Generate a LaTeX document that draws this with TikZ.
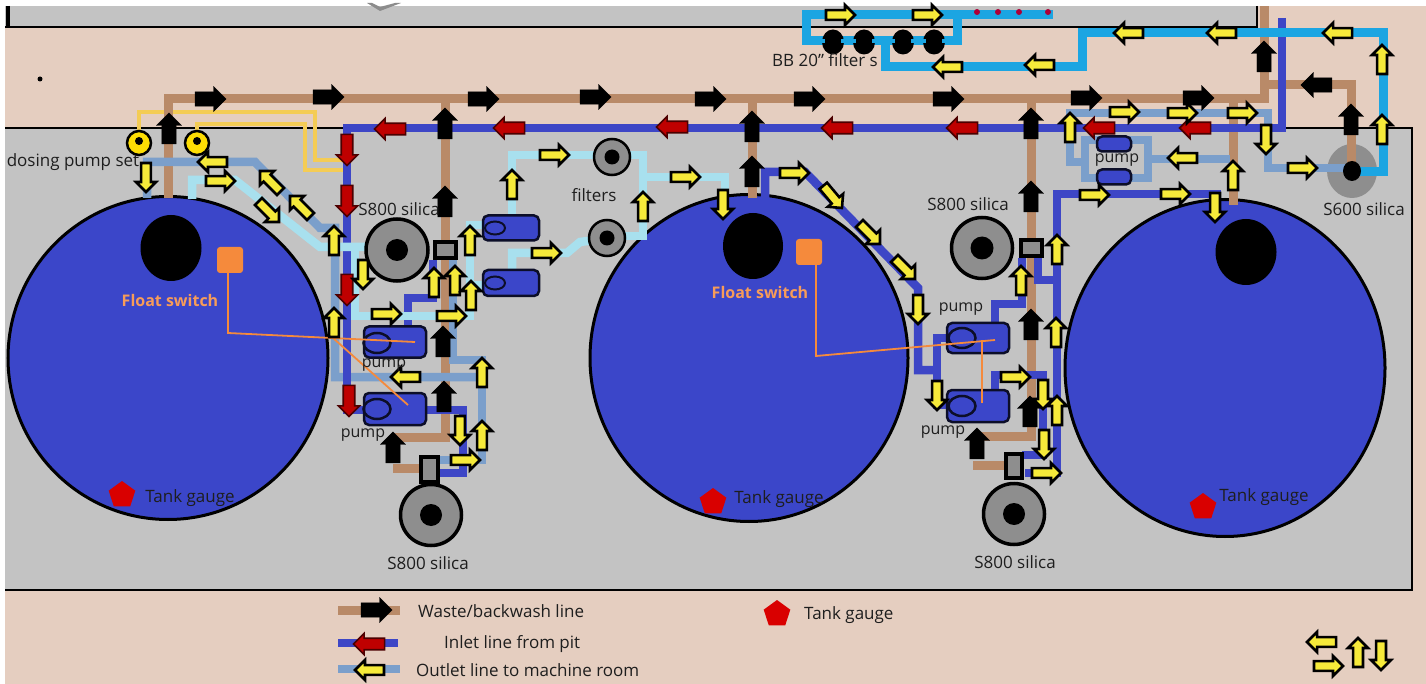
\documentclass[tikz,border=0pt]{standalone}
\usepackage{fontspec}
\setmainfont{Open Sans}
\usepackage{tikz}
\usetikzlibrary{shapes.geometric,shapes.arrows}
\definecolor{peach}{HTML}{E5CEC0}
\definecolor{slab}{HTML}{C3C3C3}
\definecolor{tankblue}{HTML}{3B46C9}
\definecolor{wastec}{HTML}{B98A68}
\definecolor{inletc}{HTML}{3D46C6}
\definecolor{outletc}{HTML}{7B9FCB}
\definecolor{palec}{HTML}{A8E0EE}
\definecolor{skyc}{HTML}{1BA5E2}
\definecolor{dosec}{HTML}{F4CC55}
\definecolor{floatc}{HTML}{F58A3C}
\definecolor{ink}{HTML}{1E1E1E}
\definecolor{filterg}{HTML}{8E8E8E}
\definecolor{yelfill}{HTML}{F6EA3A}
\newcommand{\fLabel}{\fontsize{17}{20}\selectfont}
\newcommand{\fSmall}{\fontsize{16}{19}\selectfont}
\begin{document}
\begin{tikzpicture}[x=1pt,y=-1pt,
  waste/.style={draw=wastec,line width=9pt},
  inlet/.style={draw=inletc,line width=8.5pt},
  outlet/.style={draw=outletc,line width=8.5pt},
  pale/.style={draw=palec,line width=8.5pt},
  sky/.style={draw=skyc,line width=9pt},
  dose/.style={draw=dosec,line width=3.5pt},
  floatline/.style={draw=floatc,line width=1.8pt},
  tank/.style={ellipse,draw=black,line width=3pt,fill=tankblue,inner sep=0pt},
  hole/.style={ellipse,fill=black,inner sep=0pt},
  filterbody/.style={circle,draw=black,line width=3.5pt,fill=filterg,inner sep=0pt},
  valve/.style={rectangle,draw=black,line width=4pt,fill=filterg,inner sep=0pt},
  pumpbody/.style={rectangle,rounded corners=5pt,draw=black!80!tankblue,line width=2.5pt,fill=tankblue,inner sep=0pt},
  pumpeye/.style={ellipse,draw=black!80!tankblue,line width=2.5pt,inner sep=0pt,minimum width=27pt,minimum height=20pt},
  gauge/.style={regular polygon,regular polygon sides=5,fill=red!85!black,inner sep=0pt,minimum size=28pt},
  yel/.style={single arrow,draw=black,line width=2.6pt,fill=yelfill,inner sep=2.6pt,minimum height=29pt,minimum width=20pt,single arrow head extend=4pt},
  blk/.style={single arrow,draw=black,fill=black,inner sep=5pt,minimum height=31pt,minimum width=25pt,single arrow head extend=4pt},
  rdd/.style={single arrow,draw=black!70!red,line width=1.6pt,fill=red!75!black,inner sep=3.5pt,minimum height=31pt,minimum width=21pt,single arrow head extend=3.5pt},
  lbl/.style={inner sep=0pt,text=ink,font=\fLabel},
  plbl/.style={inner sep=0pt,text=ink,font=\fSmall},
  flbl/.style={inner sep=0pt,text=floatc!85!white,font=\fSmall\bfseries}]
  \useasboundingbox (0,0) rectangle (1426,684);
  \fill[white] (0,0) rectangle (1426,684);
  \fill[peach] (5,6) rectangle (1426,684);
  \fill[slab] (5,6) rectangle (1257,27);
  \draw[black,line width=2.5pt] (1257,6) -- (1257,27) -- (5,27);
  \draw[black,line width=4pt] (8,6) -- (8,28);
  \fill[black!45] (367,3) -- (380,11) -- (401,3) -- (395,3) -- (380,7) -- (372,3) -- cycle;
  \fill[black] (40,79) circle (2.5);
  \draw[fill=slab,draw=black,line width=2.5pt] (5,128) -- (1412,128) -- (1412,590) -- (5,590);
  \node[tank,minimum width=320pt,minimum height=323pt] (tankA) at (168,358) {};
  \node[tank,minimum width=318pt,minimum height=327pt] (tankB) at (749,358) {};
  \node[tank,minimum width=320pt,minimum height=337pt] (tankC) at (1225,368) {};
  \node[hole,minimum width=61pt,minimum height=66pt] (holeA) at (171,248) {};
  \node[hole,minimum width=60pt,minimum height=66pt] (holeB) at (753,246) {};
  \node[hole,minimum width=61pt,minimum height=66pt] (holeC) at (1246,252) {};

  \draw[dose] (139,135) -- (139,112) -- (315,112) -- (315,160) -- (345,160);
  \draw[dose] (197,135) -- (197,124) -- (305,124) -- (305,170) -- (345,170);

  \draw[waste] (168,198) -- (168,99) -- (1264,99) -- (1264,6);
  \draw[waste] (445,99) -- (445,437) -- (393,437);
  \draw[waste] (393,468) -- (430,468);
  \draw[waste] (752,99) -- (752,198);
  \draw[waste] (1031,99) -- (1031,436) -- (977,436);
  \draw[waste] (973,465) -- (1010,465);
  \draw[waste] (1233,99) -- (1233,205);
  \draw[waste] (1264,85) -- (1351,85) -- (1351,172);
  \draw[waste] (338,610) -- (400,610);

  \draw[outlet] (147,198) -- (147,162) -- (255,162) -- (320,228) -- (335,228) -- (335,377) -- (482,377);
  \draw[outlet] (453,240) -- (453,360) -- (482,360) -- (482,460) -- (440,460);
  \draw[outlet] (1085,162) -- (1070,162) -- (1070,113) -- (1268,113) -- (1268,168) -- (1350,168);
  \draw[outlet] (1085,140) rectangle (1148,178);
  \draw[outlet] (1148,159) -- (1230,159);
  \draw[outlet] (338,669) -- (400,669);

  \draw[inlet] (1282,18) -- (1282,128) -- (347,128) -- (347,410) -- (364,410);
  \draw[inlet] (426,410) -- (463,410) -- (463,473) -- (440,473);
  \draw[inlet] (408,325) -- (408,298) -- (433,298) -- (433,260);
  \draw[inlet] (765,198) -- (765,172) -- (805,172) -- (918,288) -- (918,370) -- (937,370);
  \draw[inlet] (950,338) -- (937,338) -- (937,405) -- (950,405);
  \draw[inlet] (995,323) -- (995,304) -- (1022,304) -- (1022,258);
  \draw[inlet] (995,390) -- (995,375) -- (1043,375) -- (1043,455) -- (1022,455);
  \draw[inlet] (1025,473) -- (1057,473) -- (1057,194) -- (1217,194) -- (1217,205);
  \draw[inlet] (1038,255) -- (1038,280) -- (1057,280);
  \draw[inlet] (338,643) -- (398,643);

  \draw[pale] (192,199) -- (192,180) -- (235,180) -- (320,247) -- (372,247);
  \draw[pale] (355,247) -- (355,316) -- (470,316) -- (470,225) -- (490,225);
  \draw[pale] (470,285) -- (490,285);
  \draw[pale] (512,218) -- (512,155) -- (595,155);
  \draw[pale] (512,272) -- (512,253) -- (567,253) -- (580,242) -- (595,240);
  \draw[pale] (625,155) -- (643,155) -- (643,177) -- (725,177) -- (725,198);
  \draw[pale] (622,236) -- (643,236) -- (643,177);

  \draw[sky] (885,41) -- (806,41) -- (806,15) -- (1053,15);
  \draw[sky] (957,15) -- (957,41) -- (885,41) -- (885,67) -- (1082,67) -- (1082,33) -- (1383,33) -- (1383,172) -- (1358,172);
  \foreach \x [count=\i] in {977,998,1019,1048}
    \fill[red!75!blue!90!black] (\x,12) circle (3);
  \foreach \x [count=\i] in {833,864,903,934} {
    \node[hole,minimum width=22pt,minimum height=25pt] (bb\i) at (\x,42) {};
    \draw[sky,line width=4pt] (\x-12,41) -- (\x-8,41) (\x+8,41) -- (\x+12,41);
  }

  \node[valve,minimum width=21pt,minimum height=16pt] (valveA) at (445,250) {};
  \node[valve,minimum width=17pt,minimum height=25pt] (valveB) at (429,469) {};
  \node[valve,minimum width=21pt,minimum height=16pt] (valveC) at (1031,248) {};
  \node[valve,minimum width=16pt,minimum height=24pt] (valveD) at (1014,466) {};
  \node[filterbody,minimum size=62pt] (filterA) at (397,250) {};
  \node[filterbody,minimum size=61pt] (filterB) at (431,515) {};
  \node[filterbody,minimum size=61pt] (filterC) at (982,248) {};
  \node[filterbody,minimum size=61pt] (filterD) at (1014,514) {};
  \node[filterbody,line width=2.5pt,minimum size=36pt] (filterE) at (612,157) {};
  \node[filterbody,line width=2.5pt,minimum size=36pt] (filterF) at (607,238) {};
  \foreach \n/\s in {filterA/22,filterB/22,filterC/23,filterD/22,filterE/15,filterF/15}
    \node[hole,minimum size=\s pt] at (\n) {};
  \node[ellipse,fill=filterg,inner sep=0pt,minimum width=50pt,minimum height=54pt] (filterG) at (1352,171) {};
  \draw[waste] (1351,135) -- (1351,168);
  \draw[outlet] (1320,168) -- (1350,168);
  \draw[sky] (1358,172) -- (1383,172) -- (1383,150);
  \node[hole,minimum width=18pt,minimum height=20pt] at (filterG) {};

  \node[circle,draw=black,line width=2.5pt,fill=yellow!80!orange,minimum size=24pt,inner sep=0pt] (doseA) at (139,143) {};
  \node[circle,draw=black,line width=2.5pt,fill=yellow!80!orange,minimum size=24pt,inner sep=0pt] (doseB) at (197,143) {};
  \fill[black] (doseA) ++(0,-2) circle (4) (doseB) ++(0,-2) circle (4);

  \node[pumpbody,minimum width=62pt,minimum height=31pt] (pumpA) at (395,342) {};
  \node[pumpbody,minimum width=62pt,minimum height=32pt] (pumpB) at (395,409) {};
  \node[pumpbody,minimum width=62pt,minimum height=30pt] (pumpC) at (978,338) {};
  \node[pumpbody,minimum width=62pt,minimum height=32pt] (pumpD) at (978,406) {};
  \node[pumpbody,minimum width=56pt,minimum height=25pt] (pumpE) at (511,228) {};
  \node[pumpbody,minimum width=56pt,minimum height=26pt] (pumpF) at (511,283) {};
  \node[pumpbody,minimum width=34pt,minimum height=15pt] (pumpG) at (1114,144) {};
  \node[pumpbody,minimum width=34pt,minimum height=15pt] (pumpH) at (1114,177) {};
  \foreach \n/\x/\y in {A/377/343,B/377/409,C/962/338,D/962/406}
    \node[pumpeye] (eye\n) at (\x,\y) {};
  \foreach \n/\x/\y in {E/495/228,F/495/283}
    \node[pumpeye,line width=2pt,minimum width=20pt,minimum height=13pt] (eye\n) at (\x,\y) {};

  \node[rectangle,rounded corners=3pt,fill=floatc,minimum size=26pt,inner sep=0pt] (floatA) at (230,260) {};
  \node[rectangle,rounded corners=3pt,fill=floatc,minimum size=26pt,inner sep=0pt] (floatB) at (809,252) {};
  \draw[floatline] (228,273) -- (228,333) -- (415,342);
  \draw[floatline] (333,338) -- (408,405);
  \draw[floatline] (816,265) -- (816,356) -- (995,340);
  \draw[floatline] (982,340) -- (982,403);

  \node[gauge] (gaugeA) at (122,495) {};
  \node[gauge] (gaugeB) at (713,502) {};
  \node[gauge] (gaugeC) at (1203,507) {};
  \node[gauge] (gaugeL) at (777,614) {};

  \foreach \x/\y [count=\i] in {207/99,325/97,480/99,592/97,707/99,806/99,945/99,1083/98,1195/98,373/610}
    \node[blk] (east\i) at (\x,\y) {};
  \foreach \x/\y [count=\i] in {169/132,445/127,445/205,443/345,444/400,393/451,752/130,752/175,1031/127,1031/200,1031/328,1030/415,977/447,1264/60,1351/123}
    \node[blk,rotate=90] (north\i) at (\x,\y) {};
  \node[blk,rotate=180] (westA) at (1320,85) {};

  \foreach \x/\y [count=\i] in {393/129,512/128,675/127,840/128,965/128,1102/128,1198/128,372/644}
    \node[rdd,rotate=180] (redw\i) at (\x,\y) {};
  \foreach \x/\y [count=\i] in {347/147,347/198,347/287,349/398}
    \node[rdd,rotate=270] (reds\i) at (\x,\y) {};

  \foreach \x/\y/\r [count=\i] in {
    146/175/270,215/162/180,218/181/0,272/183/135,302/208/135,267/210/-45,
    334/243/90,334/325/90,363/272/270,434/285/90,455/283/90,470/243/90,471/298/90,
    384/314/0,449/316/0,408/377/180,482/375/90,482/438/90,460/428/270,463/460/0,
    552/155/0,512/187/90,544/253/0,643/209/90,683/177/0,723/202/270,
    792/173/0,831/195/-50,868/232/-45,903/267/-45,918/307/270,937/393/270,
    1021/283/90,1057/252/90,1056/335/90,1013/377/0,1043/392/270,1057/413/90,1044/442/270,1044/473/0,
    1092/195/0,1173/194/0,1215/205/270,1233/178/90,1185/158/180,
    1070/130/90,1122/112/0,1180/113/0,1240/113/0,1266/137/270,1300/168/0,
    838/15/0,925/15/0,950/67/180,1042/65/180,1131/33/180,1224/33/180,1340/33/180,1382/62/90,1382/132/90,
    372/670/180,1324/642/180,1326/666/0,1358/655/90,1381/653/270}
    \node[yel,rotate=\r] (yel\i) at (\x,\y) {};

  \node[lbl] (lblDose) at (73,162) {dosing pump set};
  \node[lbl] (lblBB) at (825,60) {BB 20'' filter s};
  \node[lbl] (lblSa) at (399,209) {S800 silica};
  \node[lbl] (lblSb) at (428,563) {S800 silica};
  \node[lbl] (lblSc) at (968,204) {S800 silica};
  \node[lbl] (lblSd) at (1015,562) {S800 silica};
  \node[lbl] (lblSe) at (1364,209) {S600 silica};
  \node[lbl] (lblFilters) at (594,195) {filters};
  \node[plbl] (lblPa) at (384,365) {pump};
  \node[plbl] (lblPb) at (363,435) {pump};
  \node[plbl] (lblPc) at (961,309) {pump};
  \node[plbl] (lblPd) at (943,432) {pump};
  \node[plbl] (lblPe) at (1117,160) {pump};
  \node[flbl] (lblFa) at (170,301) {Float switch};
  \node[flbl] (lblFb) at (760,293) {Float switch};
  \node[lbl] (lblGa) at (190,498) {Tank gauge};
  \node[lbl] (lblGb) at (779,499) {Tank gauge};
  \node[lbl] (lblGc) at (1264,497) {Tank gauge};
  \node[lbl,anchor=west] (lblW) at (418,611) {Waste/backwash line};
  \node[lbl,anchor=west] (lblI) at (444,644) {Inlet line from pit};
  \node[lbl,anchor=west] (lblO) at (416,670) {Outlet line to machine room};
  \node[lbl,anchor=west] (lblG) at (804,615) {Tank gauge};
\end{tikzpicture}
\end{document}
